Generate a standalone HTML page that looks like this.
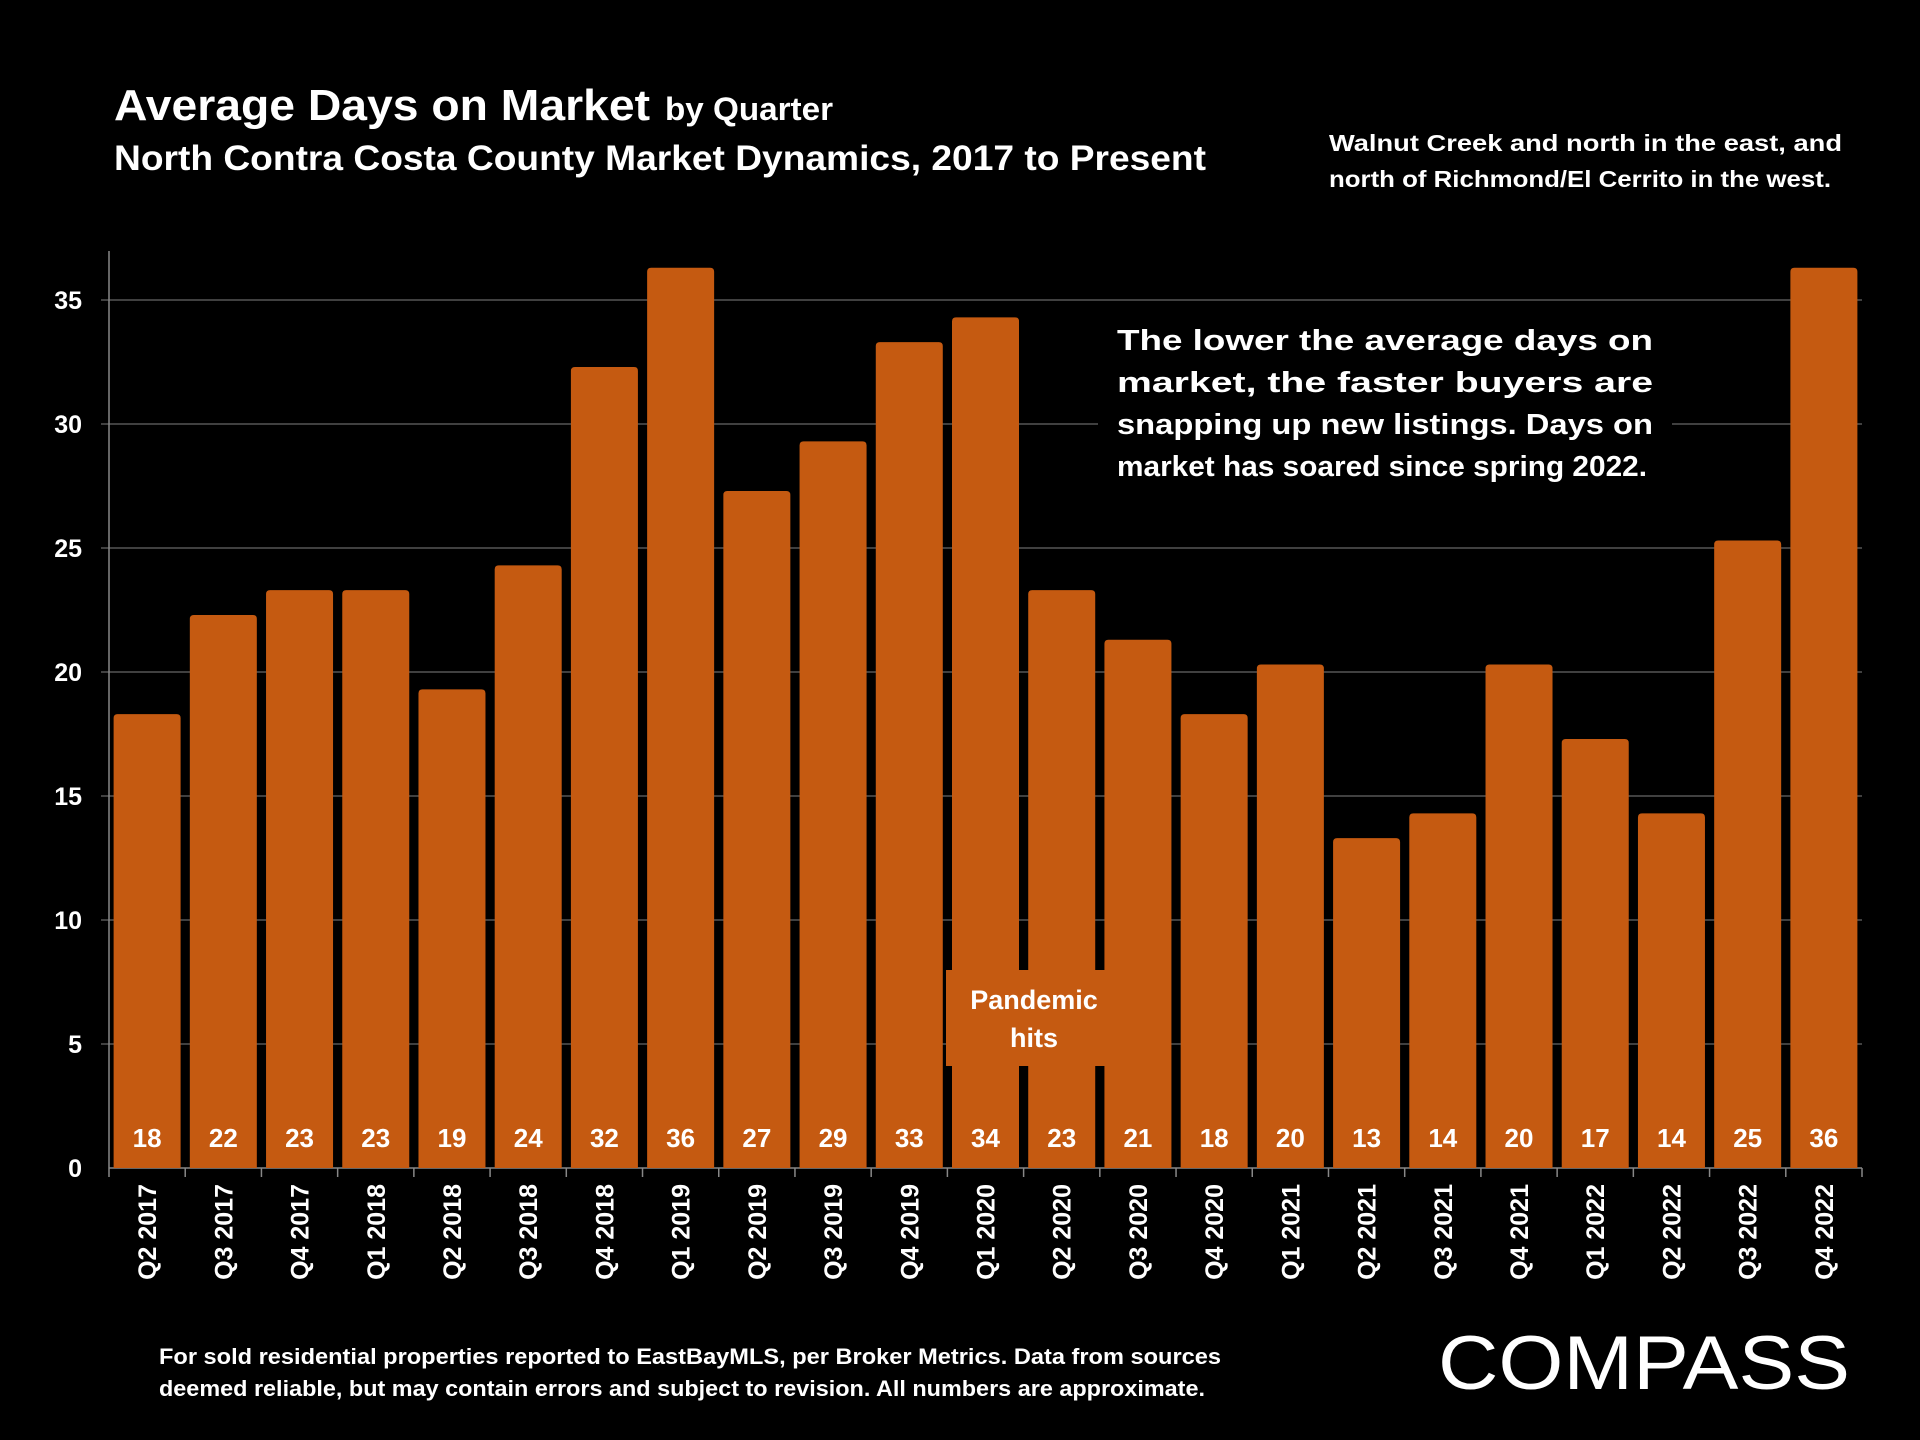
<!DOCTYPE html>
<html><head><meta charset="utf-8"><style>
html,body{margin:0;padding:0;background:#000;}
body{width:1920px;height:1440px;overflow:hidden;position:relative;font-family:"Liberation Sans",sans-serif;color:#fff;}
</style></head><body>
<svg id="chart" width="1920" height="1440" xmlns="http://www.w3.org/2000/svg" style="position:absolute;left:0;top:0">
<text x="114" y="120" font-size="44" font-weight="bold" fill="#fff" textLength="536" lengthAdjust="spacingAndGlyphs">Average Days on Market</text>
<text x="665" y="120" font-size="32" font-weight="bold" fill="#fff" textLength="168" lengthAdjust="spacingAndGlyphs">by Quarter</text>
<text x="114" y="170" font-size="35" font-weight="bold" fill="#fff" textLength="1092" lengthAdjust="spacingAndGlyphs">North Contra Costa County Market Dynamics, 2017 to Present</text>
<text x="1329" y="151" font-size="23" font-weight="bold" fill="#fff" textLength="513" lengthAdjust="spacingAndGlyphs">Walnut Creek and north in the east, and</text>
<text x="1329" y="187" font-size="23" font-weight="bold" fill="#fff" textLength="502" lengthAdjust="spacingAndGlyphs">north of Richmond/El Cerrito in the west.</text>
<g id="grid"></g><g id="bars"></g><g id="labels"></g>
<rect x="1098" y="312" width="574" height="176" fill="#000"/>
<g font-size="29" font-weight="bold" fill="#fff">
<text x="1117" y="350" textLength="536" lengthAdjust="spacingAndGlyphs">The lower the average days on</text>
<text x="1117" y="392" textLength="536" lengthAdjust="spacingAndGlyphs">market, the faster buyers are</text>
<text x="1117" y="434" textLength="536" lengthAdjust="spacingAndGlyphs">snapping up new listings. Days on</text>
<text x="1117" y="476" textLength="530" lengthAdjust="spacingAndGlyphs">market has soared since spring 2022.</text>
</g>
<rect x="946" y="970" width="162" height="96" fill="#C55A11"/>
<text x="1034" y="1009" font-size="27" font-weight="bold" fill="#fff" text-anchor="middle">Pandemic</text>
<text x="1034" y="1047" font-size="27" font-weight="bold" fill="#fff" text-anchor="middle">hits</text>
<text x="159" y="1364" font-size="22" font-weight="bold" fill="#fff" textLength="1062" lengthAdjust="spacingAndGlyphs">For sold residential properties reported to EastBayMLS, per Broker Metrics. Data from sources</text>
<text x="159" y="1396" font-size="22" font-weight="bold" fill="#fff" textLength="1046" lengthAdjust="spacingAndGlyphs">deemed reliable, but may contain errors and subject to revision. All numbers are approximate.</text>
<text x="1438" y="1389" font-size="76" fill="#fff" textLength="412" lengthAdjust="spacingAndGlyphs">COMPASS</text>
</svg>
<script>
const categories=["Q2 2017","Q3 2017","Q4 2017","Q1 2018","Q2 2018","Q3 2018","Q4 2018","Q1 2019","Q2 2019","Q3 2019","Q4 2019","Q1 2020","Q2 2020","Q3 2020","Q4 2020","Q1 2021","Q2 2021","Q3 2021","Q4 2021","Q1 2022","Q2 2022","Q3 2022","Q4 2022"];
const values=[18,22,23,23,19,24,32,36,27,29,33,34,23,21,18,20,13,14,20,17,14,25,36];
const yTicks=[0,5,10,15,20,25,30,35];
const NS="http://www.w3.org/2000/svg";
const x0=109,x1=1862,yBase=1168,unit=24.8,yTop=251;
const step=(x1-x0)/categories.length,bw=67;
const y=v=>yBase-(v+0.3)*unit;
const yg=v=>yBase-v*unit;
function mk(tag,attrs,parent){const e=document.createElementNS(NS,tag);for(const k in attrs)e.setAttribute(k,attrs[k]);parent.appendChild(e);return e;}
const grid=document.getElementById('grid'),bars=document.getElementById('bars'),labels=document.getElementById('labels');
yTicks.forEach(t=>{
 if(t>0){const l=mk('line',{x1:x0-8,x2:x1,y1:yg(t),y2:yg(t),stroke:'#555','stroke-width':1.5},grid);
 
 }
 const tx=mk('text',{x:82,y:yg(t)+9,'font-size':25,'font-weight':'bold',fill:'#fff','text-anchor':'end'},grid);
 tx.textContent=t;
 
 
});
const ax=mk('line',{x1:x0,x2:x0,y1:yTop,y2:yBase,stroke:'#888','stroke-width':1.5},grid);


const xa=mk('line',{x1:x0,x2:x1,y1:yBase,y2:yBase,stroke:'#888','stroke-width':1.5},grid);


for(let i=0;i<=categories.length;i++){
 const tk=mk('line',{x1:x0+i*step,x2:x0+i*step,y1:yBase,y2:yBase+9,stroke:'#888','stroke-width':1.5},grid);
 
 
}
categories.forEach((c,i)=>{
 const cx=x0+step*(i+0.5),top=y(values[i]);
 const b=mk('path',{d:`M${cx-bw/2},${yBase} V${top+4} Q${cx-bw/2},${top} ${cx-bw/2+4},${top} H${cx+bw/2-4} Q${cx+bw/2},${top} ${cx+bw/2},${top+4} V${yBase} Z`,fill:'#C55A11'},bars);
 
 
 const vl=mk('text',{x:cx,y:1147,'font-size':26,'font-weight':'bold',fill:'#fff','text-anchor':'middle'},labels);
 vl.textContent=values[i];
 
 
 const xl=mk('text',{x:0,y:0,'font-size':25,'font-weight':'bold',fill:'#fff','text-anchor':'end',transform:`translate(${cx+9},1184) rotate(-90)`},labels);
 xl.textContent=c;
 
 
});
</script>
</body></html>
